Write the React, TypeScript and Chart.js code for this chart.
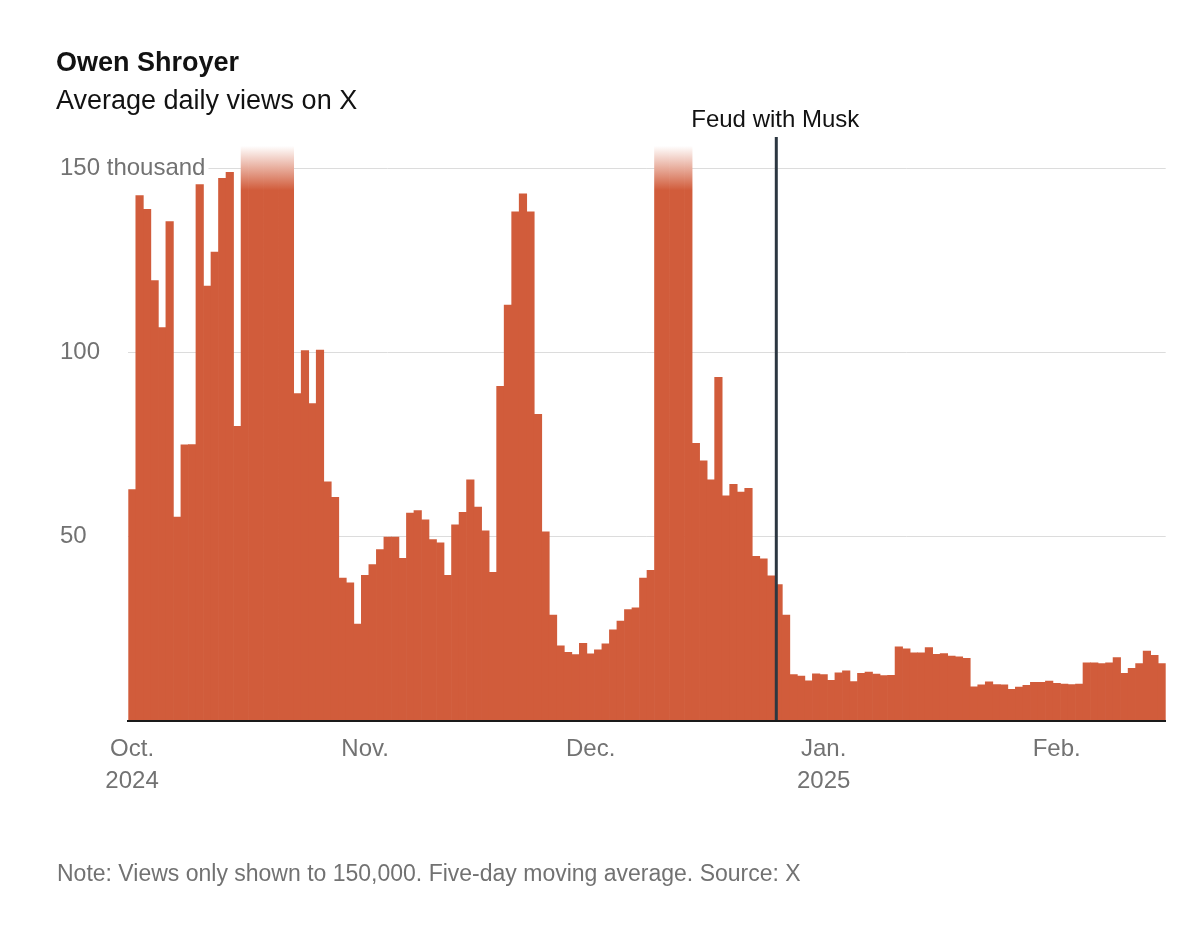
import React, { useEffect, useRef } from 'react';
import { Chart, registerables } from 'chart.js';

Chart.register(...registerables);

// ---------- data ----------
const START_DATE = '2024-10-01';

// Five-day moving average of daily views, in thousands (Oct 1, 2024 onward).
// Days above the 150k cap are marked with 160 (not shown beyond the cap).
const VALUES: number[] = [
  62.8, 142.5, 138.8, 119.5, 106.7, 135.5, 55.3, 74.9, 75.0, 145.5,
  118.0, 127.2, 147.2, 148.8, 79.9, 160, 160, 160, 160, 160,
  160, 160, 88.8, 100.5, 86.1, 100.6, 64.9, 60.7, 38.8, 37.5,
  26.3, 39.5, 42.4, 46.5, 49.9, 49.9, 44.1, 56.4, 57.1, 54.6,
  49.2, 48.3, 39.5, 53.2, 56.6, 65.4, 58.0, 51.6, 40.3, 90.8,
  112.8, 138.1, 143.0, 138.1, 83.2, 51.3, 28.7, 20.4, 18.6, 18.0,
  21.1, 18.2, 19.3, 20.9, 24.7, 27.1, 30.2, 30.7, 38.8, 40.9,
  160, 160, 160, 160, 160, 75.3, 70.6, 65.4, 93.2, 61.1,
  64.2, 62.1, 63.1, 44.7, 44.0, 39.4, 37.0, 28.7, 12.6, 12.2,
  10.9, 12.8, 12.6, 11.0, 13.1, 13.6, 10.7, 12.9, 13.3, 12.7,
  12.3, 12.4, 20.1, 19.6, 18.5, 18.5, 19.9, 18.1, 18.3, 17.6,
  17.4, 17.0, 9.3, 9.8, 10.6, 9.9, 9.8, 8.6, 9.2, 9.7,
  10.5, 10.5, 10.8, 10.2, 10.0, 9.9, 10.0, 15.8, 15.8, 15.6,
  15.8, 17.2, 12.9, 14.3, 15.6, 19.0, 17.8, 15.6,
];

const CAP = 150;
const Y_MAX = 156;
const FADE_FROM = 144;

const Y_TICKS = [50, 100, 150];
const Y_TICK_LABELS: Record<number, string> = { 50: '50', 100: '100', 150: '150 thousand' };

const MONTH_TICKS: Record<string, string[]> = {
  '2024-10-01': ['Oct.', '2024'],
  '2024-11-01': ['Nov.'],
  '2024-12-01': ['Dec.'],
  '2025-01-01': ['Jan.', '2025'],
  '2025-02-01': ['Feb.'],
};

const EVENT_DATE = '2024-12-26';
const EVENT_LABEL = 'Feud with Musk';

const TITLE = 'Owen Shroyer';
const SUBTITLE = 'Average daily views on X';
const NOTE = 'Note: Views only shown to 150,000. Five-day moving average. Source: X';

// ---------- style ----------
const FONT = "'Liberation Sans', Arial, Helvetica, sans-serif";
const BAR = '#d15c3b';
const GRAY = '#727272';
const Y_AXIS_WIDTH = 68.3;

function buildDays(start: string, n: number): string[] {
  const t0 = Date.parse(start + 'T00:00:00Z');
  const out: string[] = [];
  for (let i = 0; i < n; i++) {
    out.push(new Date(t0 + i * 86400000).toISOString().slice(0, 10));
  }
  return out;
}

const DAYS = buildDays(START_DATE, VALUES.length);

const eventPlugin = {
  id: 'eventLine',
  afterDatasetsDraw(chart: any) {
    const xs = chart.scales.x;
    const idx = DAYS.indexOf(EVENT_DATE);
    if (idx < 1) return;
    const px = (xs.getPixelForValue(idx - 1) + xs.getPixelForValue(idx)) / 2 + 1.5;
    const area = chart.chartArea;
    const top = area.top - 9;
    const ctx = chart.ctx as CanvasRenderingContext2D;
    ctx.save();
    ctx.strokeStyle = '#2c3741';
    ctx.lineWidth = 3;
    ctx.beginPath();
    ctx.moveTo(px, top);
    ctx.lineTo(px, area.bottom);
    ctx.stroke();
    ctx.fillStyle = '#121212';
    ctx.font = `24px ${FONT}`;
    ctx.textAlign = 'center';
    ctx.textBaseline = 'alphabetic';
    ctx.fillText(EVENT_LABEL, px - 1, top - 10);
    ctx.restore();
  },
};

function BarChart() {
  const ref = useRef<HTMLCanvasElement | null>(null);

  useEffect(() => {
    if (!ref.current) return;
    const chart = new Chart(ref.current, {
      type: 'bar',
      data: {
        labels: DAYS,
        datasets: [
          {
            data: VALUES,
            backgroundColor: (ctx: any) => {
              const v = ctx.raw as number;
              if (typeof v !== 'number' || v <= CAP) return BAR;
              const c = ctx.chart;
              if (!c.chartArea) return BAR;
              const y = c.scales.y;
              const g = c.ctx.createLinearGradient(0, y.getPixelForValue(Y_MAX), 0, y.getPixelForValue(FADE_FROM));
              g.addColorStop(0, 'rgba(255,255,255,1)');
              g.addColorStop(1, BAR);
              return g;
            },
            borderWidth: 0,
            barPercentage: 1,
            categoryPercentage: 1,
            clip: 0,
          } as any,
        ],
      },
      options: {
        responsive: false,
        animation: false,
        layout: { padding: { left: 60, right: 34.3, top: 145.9, bottom: 0 } },
        plugins: { legend: { display: false }, tooltip: { enabled: false } },
        scales: {
          x: {
            grid: { display: false, drawTicks: false },
            border: { display: true, color: '#1a1a1a', width: 2, z: 1 } as any,
            ticks: {
              autoSkip: false,
              maxRotation: 0,
              minRotation: 0,
              padding: 13,
              color: GRAY,
              font: { size: 24, family: FONT, lineHeight: 1.31 },
              callback: (_v: any, i: number) => MONTH_TICKS[DAYS[i]] ?? '',
            },
            afterFit: (s: any) => {
              s.height = 213;
            },
          },
          y: {
            min: 0,
            max: Y_MAX,
            afterBuildTicks: (s: any) => {
              s.ticks = Y_TICKS.map((v) => ({ value: v }));
            },
            grid: { color: '#dcdcdc', lineWidth: 1, drawTicks: false },
            border: { display: false },
            ticks: {
              mirror: true,
              crossAlign: 'near',
              padding: -Y_AXIS_WIDTH,
              color: GRAY,
              font: { size: 24, family: FONT },
              callback: (v: any) => Y_TICK_LABELS[Number(v)] ?? '',
              showLabelBackdrop: true,
              backdropColor: '#ffffff',
              backdropPadding: { top: 0, bottom: 0, left: 0, right: 3 },
            } as any,
            afterFit: (s: any) => {
              s.width = Y_AXIS_WIDTH;
            },
          },
        },
      },
      plugins: [eventPlugin],
    });
    return () => chart.destroy();
  }, []);

  return (
    <canvas
      ref={ref}
      width={1200}
      height={934}
      style={{ position: 'absolute', left: 0, top: 0, width: 1200, height: 934 }}
    />
  );
}

export default function App() {
  return (
    <div
      style={{
        position: 'absolute',
        left: 0,
        top: 0,
        width: 1200,
        height: 934,
        background: '#ffffff',
        fontFamily: FONT,
        overflow: 'hidden',
      }}
    >
      <BarChart />
      <div
        style={{
          position: 'absolute',
          left: 56,
          top: 49,
          fontSize: 27,
          lineHeight: '27px',
          fontWeight: 700,
          color: '#121212',
          whiteSpace: 'nowrap',
        }}
      >
        {TITLE}
      </div>
      <div
        style={{
          position: 'absolute',
          left: 56,
          top: 87,
          fontSize: 27,
          lineHeight: '27px',
          color: '#121212',
          whiteSpace: 'nowrap',
        }}
      >
        {SUBTITLE}
      </div>
      <div
        style={{
          position: 'absolute',
          left: 57,
          top: 862,
          fontSize: 23,
          lineHeight: '23px',
          color: GRAY,
          whiteSpace: 'nowrap',
        }}
      >
        {NOTE}
      </div>
    </div>
  );
}
